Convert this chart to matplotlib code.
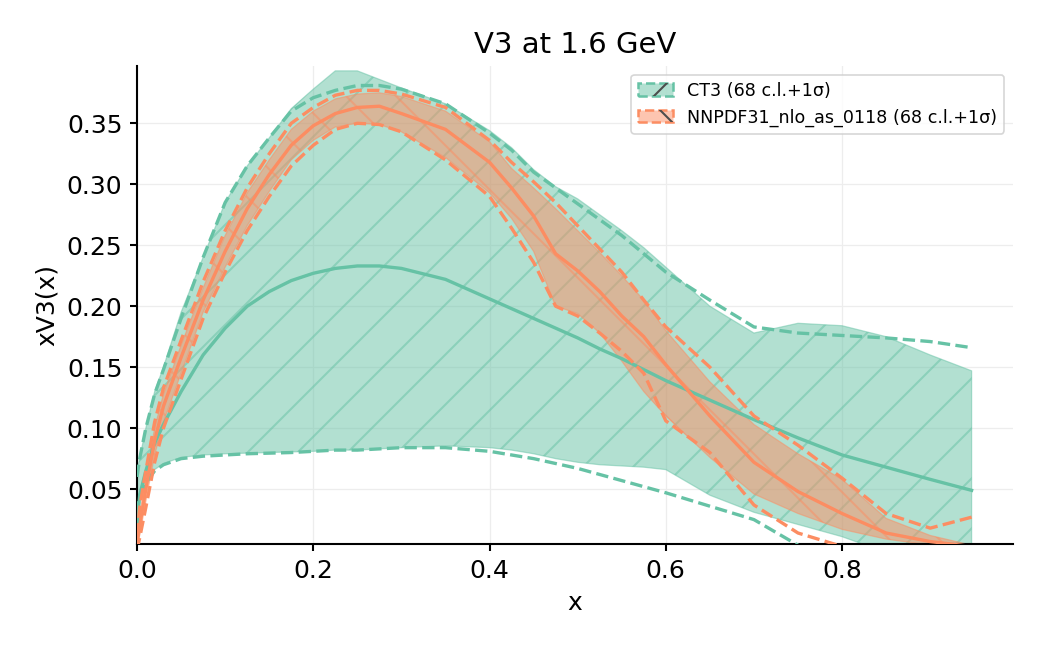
import matplotlib
matplotlib.use("Agg")
import numpy as np
import matplotlib.pyplot as plt
import matplotlib.patches as mpatches


# x grid shared by every series
x = [0.0, 0.003, 0.01, 0.02, 0.03, 0.05, 0.075, 0.1, 0.125, 0.15, 0.175, 0.2,
     0.225, 0.25, 0.275, 0.3, 0.35, 0.4, 0.425, 0.45, 0.475, 0.5, 0.525, 0.55,
     0.575, 0.6, 0.65, 0.7, 0.75, 0.8, 0.85, 0.9, 0.947]

# CT3
ct3_cv = [0.02, 0.045, 0.065, 0.088, 0.103, 0.13, 0.16, 0.182, 0.2, 0.212, 0.221, 0.227,
          0.231, 0.233, 0.233, 0.231, 0.222, 0.206, 0.198, 0.19, 0.182, 0.174, 0.165, 0.157,
          0.148, 0.139, 0.123, 0.107, 0.092, 0.078, 0.068, 0.058, 0.049]
ct3_up68 = [0.065, 0.075, 0.1, 0.13, 0.15, 0.195, 0.24, 0.285, 0.315, 0.338, 0.362, 0.378,
            0.393, 0.393, 0.386, 0.379, 0.366, 0.344, 0.33, 0.312, 0.298, 0.288, 0.275, 0.262,
            0.248, 0.232, 0.2, 0.178, 0.186, 0.184, 0.175, 0.16, 0.147]
ct3_lo68 = [0.035, 0.045, 0.058, 0.066, 0.071, 0.076, 0.078, 0.079, 0.0795, 0.08, 0.0805, 0.081,
            0.082, 0.082, 0.083, 0.084, 0.0855, 0.084, 0.082, 0.079, 0.075, 0.072, 0.07, 0.069,
            0.068, 0.066, 0.045, 0.031, 0.021, 0.011, -0.002, -0.012, -0.02]
ct3_up1s = [0.06, 0.075, 0.1, 0.128, 0.148, 0.19, 0.24, 0.285, 0.315, 0.338, 0.36, 0.371,
            0.377, 0.381, 0.381, 0.378, 0.366, 0.342, 0.328, 0.31, 0.297, 0.284, 0.271, 0.258,
            0.243, 0.228, 0.205, 0.183, 0.178, 0.176, 0.174, 0.171, 0.166]
ct3_lo1s = [0.03, 0.045, 0.055, 0.065, 0.07, 0.075, 0.077, 0.078, 0.079, 0.0795, 0.08, 0.081,
            0.082, 0.082, 0.083, 0.084, 0.084, 0.081, 0.078, 0.075, 0.071, 0.067, 0.062, 0.057,
            0.052, 0.047, 0.036, 0.025, 0.004, -0.015, -0.035, -0.055, -0.07]

# NNPDF31_nlo_as_0118
nn_cv = [0.005, 0.02, 0.05, 0.09, 0.118, 0.158, 0.205, 0.245, 0.28, 0.308, 0.332, 0.348,
         0.358, 0.363, 0.364, 0.358, 0.345, 0.318, 0.297, 0.274, 0.243, 0.229, 0.212, 0.192,
         0.175, 0.152, 0.11, 0.072, 0.048, 0.03, 0.014, 0.007, 0.003]
nn_up68 = [0.01, 0.03, 0.06, 0.1, 0.128, 0.168, 0.215, 0.258, 0.293, 0.32, 0.345, 0.36,
           0.37, 0.374, 0.375, 0.372, 0.36, 0.335, 0.313, 0.297, 0.28, 0.262, 0.244, 0.225,
           0.205, 0.18, 0.138, 0.103, 0.079, 0.058, 0.026, 0.012, 0.004]
nn_lo68 = [0.003, 0.012, 0.04, 0.078, 0.105, 0.145, 0.195, 0.232, 0.266, 0.294, 0.32, 0.336,
           0.347, 0.35, 0.349, 0.343, 0.322, 0.293, 0.272, 0.245, 0.2, 0.194, 0.178, 0.155,
           0.13, 0.11, 0.076, 0.046, 0.03, 0.017, 0.009, 0.004, 0.001]
nn_up1s = [0.012, 0.035, 0.065, 0.105, 0.133, 0.172, 0.22, 0.262, 0.297, 0.325, 0.35, 0.363,
           0.373, 0.377, 0.377, 0.374, 0.363, 0.336, 0.318, 0.302, 0.285, 0.266, 0.247, 0.228,
           0.205, 0.183, 0.15, 0.11, 0.086, 0.059, 0.03, 0.018, 0.027]
nn_lo1s = [0.0, 0.01, 0.035, 0.072, 0.1, 0.14, 0.19, 0.228, 0.262, 0.29, 0.315, 0.332,
           0.345, 0.35, 0.349, 0.343, 0.32, 0.29, 0.264, 0.236, 0.2, 0.192, 0.178, 0.163,
           0.145, 0.106, 0.08, 0.037, 0.014, 0.003, -0.005, -0.01, -0.015]

labels = ["CT3 (68 c.l.+1σ)", "NNPDF31_nlo_as_0118 (68 c.l.+1σ)"]
colors = ["#66c2a5", "#fc8d62"]
hatches = ["/", "\\"]

plt.rcParams.update({
    "font.family": "DejaVu Sans",
    "font.size": 12,
    "axes.titlesize": 14,
    "axes.labelsize": 12,
    "xtick.labelsize": 12,
    "ytick.labelsize": 12,
    "legend.fontsize": 8.4,
    "lines.linewidth": 1.6,
    "axes.linewidth": 1.0,
    "xtick.major.width": 1.0,
    "ytick.major.width": 1.0,
    "xtick.major.size": 3.5,
    "ytick.major.size": 3.5,
    "hatch.linewidth": 1.0,
    "grid.linewidth": 0.6,
    "grid.color": "#ededed",
})

fig = plt.figure(figsize=(7, 4.3), dpi=150)
ax = fig.add_axes([0.1305, 0.1566, 0.8343, 0.7411])

series = [
    (ct3_cv, ct3_up68, ct3_lo68, ct3_up1s, ct3_lo1s),
    (nn_cv, nn_up68, nn_lo68, nn_up1s, nn_lo1s),
]

xs = np.array(x)
for (cv, up, lo, up1, lo1), c, h in zip(series, colors, hatches):
    ax.fill_between(xs, up, lo, color=c, alpha=0.5, hatch=h, linewidth=0.6, zorder=1)

for (cv, up, lo, up1, lo1), c in zip(series, colors):
    ax.plot(xs, cv, color=c, zorder=3)
    ax.plot(xs, up1, color=c, linestyle="--", zorder=3)
    ax.plot(xs, lo1, color=c, linestyle="--", zorder=3)

handles = []
for c, h in zip(colors, hatches):
    base = mpatches.Patch(facecolor=(*matplotlib.colors.to_rgb(c), 0.5), edgecolor=c,
                          linestyle="--", linewidth=1.2)
    hatch = mpatches.Patch(facecolor="none", edgecolor="0.3", hatch=h, linewidth=0)
    handles.append((base, hatch))

leg = ax.legend(handles, labels, loc="upper right", frameon=True, fancybox=True)
leg.get_frame().set_linewidth(0.8)
leg.get_frame().set_edgecolor("#cccccc")

ax.set_xlim(0, 0.994)
ax.set_ylim(0.005, 0.397)
ax.set_xticks([0.0, 0.2, 0.4, 0.6, 0.8])
ax.set_yticks([0.05, 0.10, 0.15, 0.20, 0.25, 0.30, 0.35])
ax.grid(True, zorder=0)
ax.set_axisbelow(True)
ax.spines["top"].set_visible(False)
ax.spines["right"].set_visible(False)

ax.set_title("V3 at 1.6 GeV")
ax.set_xlabel("x")
ax.set_ylabel("xV3(x)")

fig.savefig("out.png", dpi=150)
